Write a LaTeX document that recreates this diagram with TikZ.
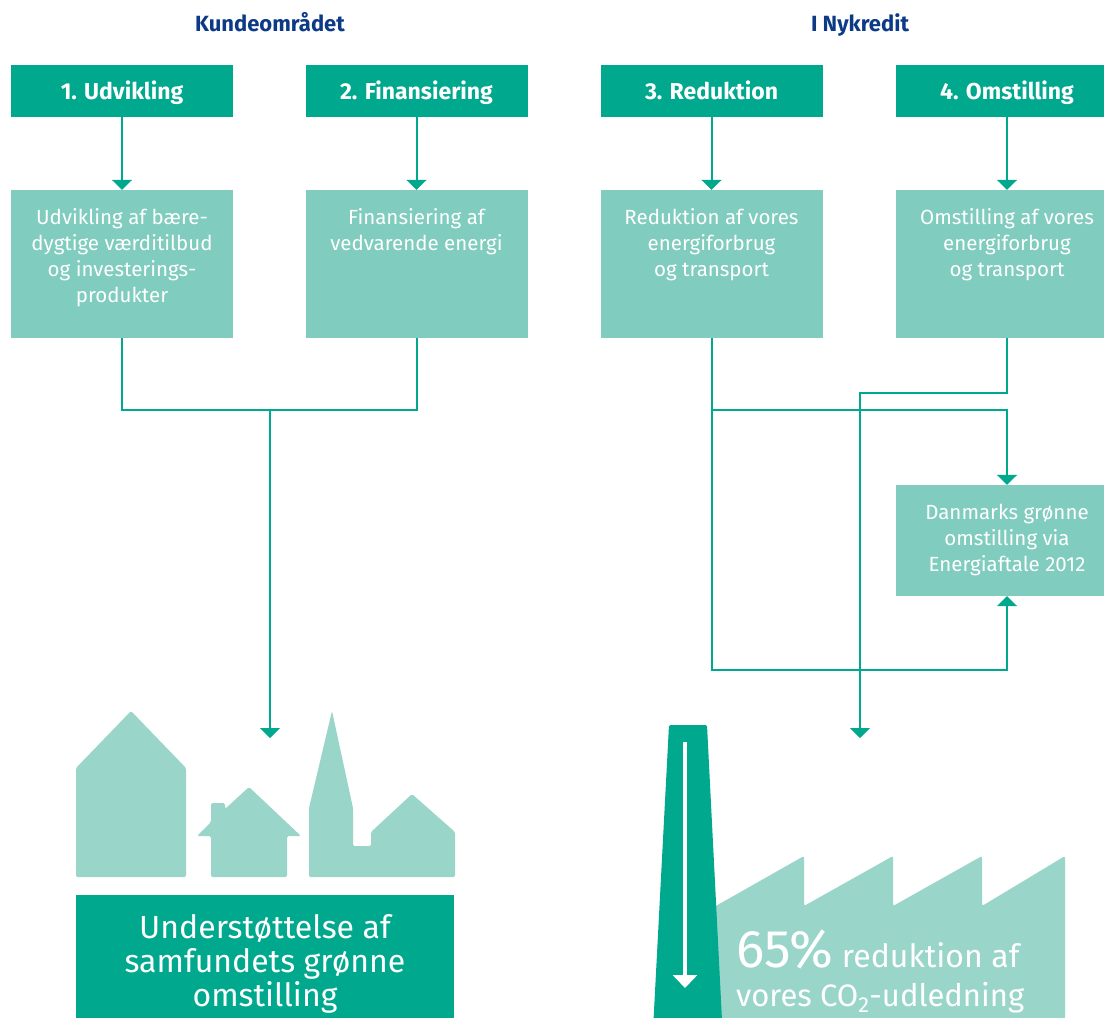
\documentclass[tikz,border=0pt]{standalone}
\usepackage{fontspec}
\setmainfont{Fira Sans}
\usetikzlibrary{positioning,arrows.meta}

\definecolor{nkgreen}{RGB}{0,168,142}
\definecolor{nklight}{RGB}{128,204,190}
\definecolor{nkpale}{RGB}{154,213,202}
\definecolor{nkblue}{RGB}{12,58,135}

\begin{document}
\begin{tikzpicture}[x=1pt, y=-1pt,
    heading/.style={text=nkblue, font=\bfseries\fontsize{22}{26}\selectfont},
    headbox/.style={fill=nkgreen, text=white, minimum width=222pt, minimum height=52pt,
        inner sep=0pt, text height=16.5pt, text depth=0pt, font=\bfseries\fontsize{23}{27}\selectfont},
    panel/.style={fill=nklight, minimum width=222pt, inner sep=0pt},
    paneltext/.style={text=white, align=center, inner sep=0pt, font=\fontsize{20.5}{26}\selectfont},
    bigtext/.style={text=white, align=center, inner sep=0pt, font=\fontsize{32}{34}\selectfont},
    link/.style={draw=nkgreen, line width=2pt},
    arr/.style={link, -{Triangle[width=20pt,length=10pt]}},
    pale/.style={fill=nkpale, rounded corners=1.5pt}]

    % Frame of the picture (the boxes on the right and at the bottom run off the edge)
    \useasboundingbox (0,0) rectangle (1104,1018);
    \clip (0,0) rectangle (1104,1018);

    % Column titles
    \node[heading, anchor=base] (K) at (270,31) {Kundeområdet};
    \node[heading, anchor=base] (N) at (860,31) {I Nykredit};

    % The four steps
    \node[headbox] (H1) at (122,91) {1. Udvikling};
    \node[headbox] (H2) at (416.5,91) {2. Finansiering};
    \node[headbox] (H3) at (711.5,91) {3. Reduktion};
    \node[headbox] (H4) at (1007,91) {4. Omstilling};

    % Light boxes under the steps
    \node[panel, minimum height=148pt] (B1) at (122,264) {};
    \node[panel, minimum height=148pt] (B2) at (416.5,264) {};
    \node[panel, minimum height=148pt] (B3) at (711.5,264) {};
    \node[panel, minimum height=148pt] (B4) at (1007,264) {};
    \node[paneltext, below=19pt of B1.north] (T1) {Udvikling af bære-\\dygtige værditilbud\\og investerings-\\produkter};
    \node[paneltext, below=19pt of B2.north] (T2) {Finansiering af\\vedvarende energi};
    \node[paneltext, below=19pt of B3.north] (T3) {Reduktion af vores\\energiforbrug\\og transport};
    \node[paneltext, below=19pt of B4.north] (T4) {Omstilling af vores\\energiforbrug\\og transport};

    % Danish energy agreement box
    \node[panel, minimum height=111pt] (DK) at (1007,540.5) {};
    \node[paneltext, below=19pt of DK.north] (TD) {Danmarks grønne\\omstilling via\\Energiaftale 2012};

    % Arrows from the steps to their boxes
    \draw[arr] (H1) -- (B1);
    \draw[arr] (H2) -- (B2);
    \draw[arr] (H3) -- (B3);
    \draw[arr] (H4) -- (B4);

    % Free ends above the town and the factory
    \coordinate (M) at (270,410);
    \coordinate (TOWN) at (270,738);
    \coordinate (FACT) at (860,738);

    % Left side joins and goes down to the town
    \draw[link] (B1.south) |- (M) -| (B2.south);
    \draw[arr] (M) -- (TOWN);

    % Right side
    \draw[arr] (B3.south) -- ++(0,332) -| (DK.south);
    \draw[arr] (B3.south |- M) -| (DK.north);
    \draw[arr] (B4.south) -- ++(0,55) -| (FACT);

    % Town: tall house, small house with chimney, church with a house
    \fill[pale] (76,877) -- (76,768) -- (131,711) -- (186,768) -- (186,877) -- cycle;
    \fill[pale] (211,877) -- (211,836) -- (197,836) -- (211,822) -- (211,803) -- (225,803)
        -- (225,809) -- (249,787) -- (301,836) -- (287,836) -- (287,877) -- cycle;
    \fill[pale] (309,877) -- (309,808) -- (332,711) -- (353,808) -- (353,846) -- (371,846)
        -- (371,832) -- (412,794) -- (455,832) -- (455,877) -- cycle;

    % Box under the town
    \node[fill=nkgreen, minimum width=378pt, minimum height=150pt, inner sep=0pt] (S) at (265,970) {};
    \node[bigtext, below=19pt of S.north] (TS) {Understøttelse af\\samfundets grønne\\omstilling};

    % Factory with saw-tooth roof, then the chimney on top of it
    \fill[pale] (714,907) -- (804,856) -- (804,906) -- (893,856) -- (893,906) -- (982,856)
        -- (982,906) -- (1065,856) -- (1065,1030) -- (714,1030) -- cycle;
    \fill[nkgreen, rounded corners=1.5pt] (669,725) -- (707,725) -- (722.5,1030) -- (653,1030) -- cycle;
    \draw[white, line width=3.5pt, -{Triangle[width=24pt,length=13pt]}] (685,742) -- (685,988);

    % Factory text
    \node[anchor=base west, inner sep=0pt, text=white, font=\fontsize{32}{34}\selectfont] (P1) at (736,967)
        {{\fontsize{53}{53}\selectfont 65\%} reduktion af};
    \node[anchor=base west, inner sep=0pt, text=white, font=\fontsize{31}{34}\selectfont] (P2) at (736,1006)
        {vores CO\textsubscript{2}-udledning};

\end{tikzpicture}
\end{document}
